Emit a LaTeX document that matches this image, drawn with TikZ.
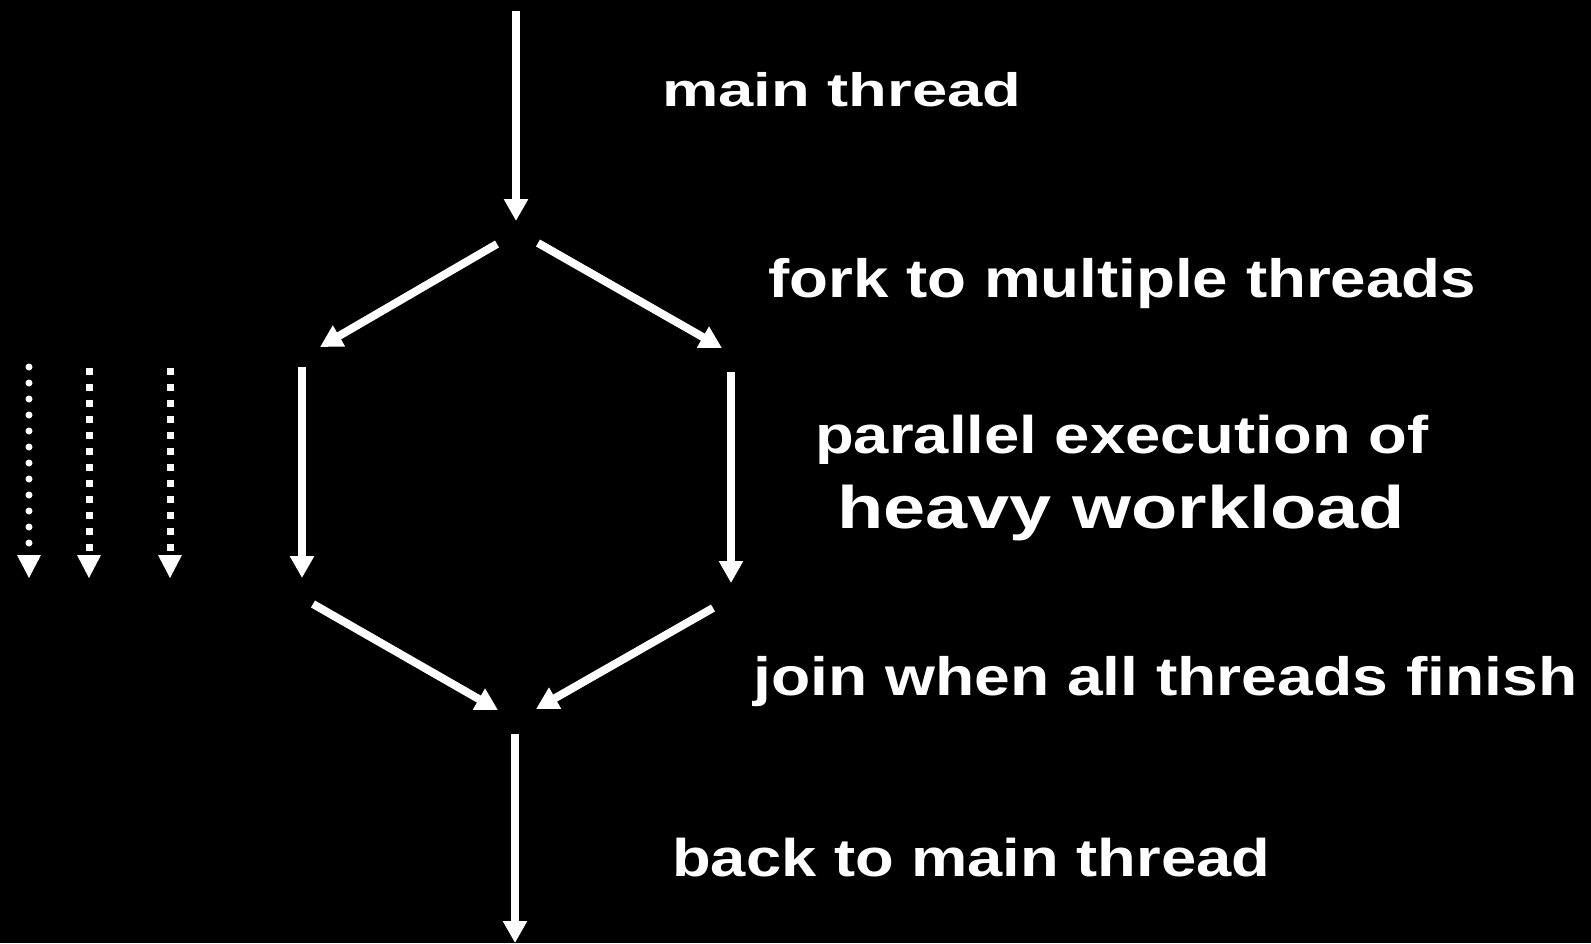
\documentclass[tikz,border=0pt]{standalone}
\usepackage{fontspec}
\setmainfont{Liberation Sans}
\usetikzlibrary{arrows.meta}
\tikzset{
  arr/.style={draw=white, line width=8pt, -{Triangle[width=23pt,length=22pt]}},
  dotrow/.style={draw=white, line width=7pt, line cap=round, dash pattern=on 0pt off 16pt, -{Triangle[width=24pt,length=23pt,line width=0pt,round=false]}},
  sqrow/.style={draw=white, line width=7pt, dash pattern=on 7pt off 9pt, -{Triangle[width=24pt,length=23pt,line width=0pt]}},
  lbl/.style={anchor=base west, inner sep=0pt, text=white, font=\bfseries}
}
\newcommand{\fitw}[3]{\resizebox{#1pt}{\height}{\fontsize{#2}{#2}\selectfont #3}}
\begin{document}
\begin{tikzpicture}[x=1pt,y=-1pt]
\fill[black] (0,0) rectangle (1591,943);
\useasboundingbox (0,0) rectangle (1591,943);
% coordinates
\coordinate (t0) at (516,11);
\coordinate (t1) at (516,221);
\coordinate (fl0) at (497,244);
\coordinate (fl1) at (320,347);
\coordinate (fr0) at (538,243);
\coordinate (fr1) at (722,348);
\coordinate (vl0) at (302,367);
\coordinate (vl1) at (302,578);
\coordinate (vr0) at (731,372);
\coordinate (vr1) at (731,583);
\coordinate (jl0) at (313,604);
\coordinate (jl1) at (498,710);
\coordinate (jr0) at (713,608);
\coordinate (jr1) at (536,709);
\coordinate (b0) at (515,734);
\coordinate (b1) at (515,943);
\coordinate (d10) at (29,367);
\coordinate (d11) at (29,578);
\coordinate (d20) at (89,367.5);
\coordinate (d21) at (89,578);
\coordinate (d30) at (170,367.5);
\coordinate (d31) at (170,578);
% arrows
\draw[arr] (t0) -- (t1);
\draw[arr] (fl0) -- (fl1);
\draw[arr] (fr0) -- (fr1);
\draw[arr] (vl0) -- (vl1);
\draw[arr] (vr0) -- (vr1);
\draw[arr] (jl0) -- (jl1);
\draw[arr] (jr0) -- (jr1);
\draw[arr] (b0) -- (b1);
\draw[dotrow] (d10) -- (d11);
\draw[sqrow] (d20) -- (d21);
\draw[sqrow] (d30) -- (d31);
% labels
\node[lbl] (l1) at (662,106) {\fitw{359}{47}{main thread}};
\node[lbl] (l2) at (768,297) {\fitw{708}{54}{fork to multiple threads}};
\node[lbl] (l3) at (815,453) {\fitw{613}{53}{parallel execution of}};
\node[lbl] (l4) at (837,528) {\fitw{568}{60}{heavy workload}};
\node[lbl] (l5) at (753,695) {\fitw{824}{54}{join when all threads finish}};
\node[lbl] (l6) at (672,876) {\fitw{598}{53}{back to main thread}};
\end{tikzpicture}
\end{document}
